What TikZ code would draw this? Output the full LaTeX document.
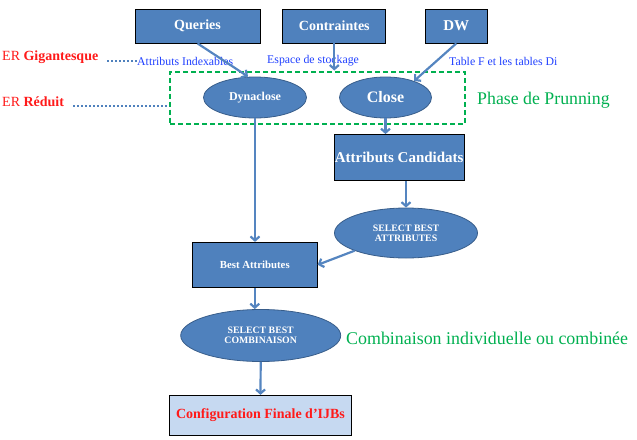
\documentclass[tikz,border=0pt]{standalone}
\usepackage{fontspec}
\setmainfont{Liberation Serif}
\usetikzlibrary{shapes.geometric,arrows.meta}

\definecolor{boxblue}{HTML}{4F81BD}
\definecolor{ovalline}{HTML}{385D8A}
\definecolor{flowblue}{HTML}{5585C0}
\definecolor{phasegreen}{HTML}{00B050}
\definecolor{notered}{HTML}{FF1A1A}
\definecolor{noteblue}{HTML}{2040FF}

\newcommand{\fsz}[1]{\fontsize{#1}{#1}\selectfont}

\begin{document}
\begin{tikzpicture}[x=1pt, y=-1pt,
    box/.style={rectangle, draw=black, line width=0.8pt, fill=boxblue, text=white, inner sep=0pt},
    oval/.style={ellipse, draw=ovalline, line width=0.8pt, fill=boxblue, text=white, inner sep=0pt, align=center},
    flow/.style={draw=flowblue, line width=2.2pt, -{Straight Barb[length=4pt,width=9pt]}},
    dots/.style={draw=boxblue, line width=2pt, dash pattern=on 2pt off 2pt},
    note/.style={anchor=west, inner sep=0pt}]
    \useasboundingbox (0,0) rectangle (637,439);

    % Draw nodes
    \node[box, minimum width=125, minimum height=34, font=\fsz{14}\bfseries] (queries) at (197.5,26) {Queries};
    \node[box, minimum width=103, minimum height=34, font=\fsz{14}\bfseries] (contraintes) at (334.3,26) {Contraintes};
    \node[box, minimum width=62, minimum height=34, font=\fsz{15}\bfseries] (dw) at (456.3,26) {DW};
    \node[rectangle, draw=phasegreen, line width=2pt, dash pattern=on 5pt off 3pt,
          minimum width=295, minimum height=52] (phase) at (317.5,97.5) {};
    \node[oval, minimum width=103, minimum height=41, font=\fsz{12}\bfseries] (dynaclose) at (255,97.5) {Dynaclose};
    \node[oval, minimum width=92, minimum height=41, font=\fsz{16}\bfseries] (close) at (385.5,97.5) {Close};
    \node[box, minimum width=130, minimum height=46, font=\fsz{15}\bfseries] (cand) at (399.2,157.5) {Attributs Candidats};
    \node[oval, minimum width=143, minimum height=50, font=\fsz{9.8}\bfseries] (sba) at (406,233) {SELECT BEST\\ATTRIBUTES};
    \node[box, minimum width=125, minimum height=45, font=\fsz{10.8}\bfseries] (best) at (254.8,264.8) {Best Attributes};
    \node[oval, minimum width=160, minimum height=52, font=\fsz{9.8}\bfseries] (sbc) at (260.7,335.5) {SELECT BEST\\COMBINAISON};
    \node[box, fill={rgb,255:red,198;green,217;blue,241}, text=notered, minimum width=182, minimum height=40,
          font=\fsz{14}\bfseries] (config) at (260.5,415.3) {Configuration Finale d’IJBs};

    % Draw notes
    \node[note, text=notered, font=\fsz{14}] (giga) at (2,57) {ER \textbf{Gigantesque}};
    \node[note, text=notered, font=\fsz{14}] (reduit) at (2,102) {ER \textbf{Réduit}};
    \node[note, text=noteblue, font=\fsz{11.8}] (indexables) at (137,61) {Attributs Indexables};
    \node[note, text=noteblue, font=\fsz{11.8}] (stockage) at (267,61) {Espace de stockage};
    \node[note, text=noteblue, font=\fsz{11.8}] (tables) at (449,61) {Table F et les tables Di};
    \node[note, text=phasegreen, font=\fsz{17.8}] (prunning) at (477,100) {Phase de Prunning};
    \node[note, text=phasegreen, font=\fsz{17.9}] (combi) at (346,338) {Combinaison individuelle ou combinée};
    \coordinate (gigadot) at (107,61);
    \coordinate (reduitdot) at (73,106);

    % Draw edges
    \draw[dots] (gigadot) -- (indexables.west);
    \draw[dots] (reduitdot) -- (reduitdot -| phase.west);
    \draw[flow] (queries.south) -- ([xshift=-7pt]dynaclose.north);
    \draw[flow] (contraintes.south) -- (contraintes.south |- phase.north);
    \draw[flow] (dw.south) -- (close.30);
    \draw[flow] (dynaclose.south) -- (dynaclose.south |- best.north);
    \draw[flow] (close.south) -- (close.south |- cand.north);
    \draw[flow] (cand.south -| sba.north) -- (sba.north);
    \draw[flow] (sba.199) -- (best.east);
    \draw[flow] (best.south) -- (best.south |- sbc.north);
    \draw[flow] (sbc.south) -- (config.north);
\end{tikzpicture}
\end{document}
